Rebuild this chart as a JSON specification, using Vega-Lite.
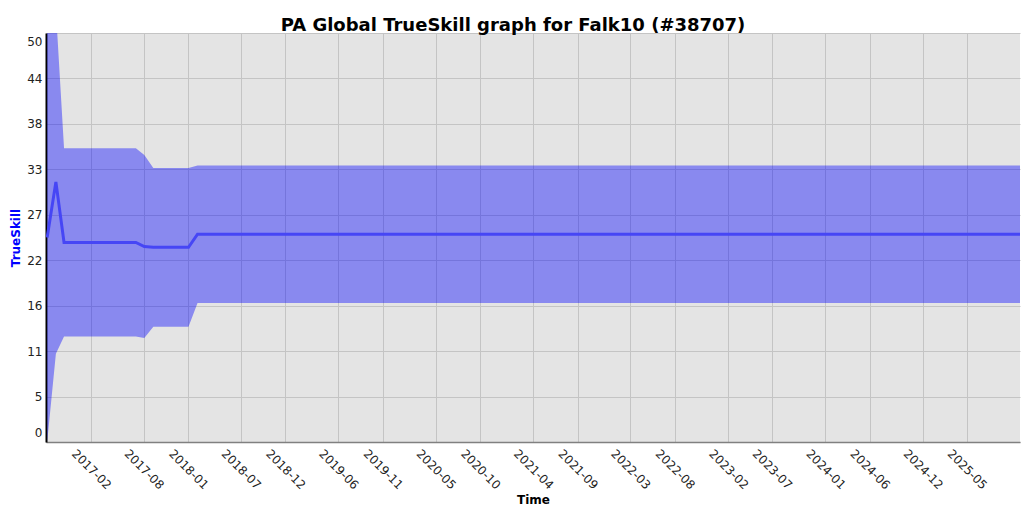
{
  "$schema": "https://vega.github.io/schema/vega-lite/v6.json",
  "width": 974,
  "height": 409,
  "autosize": {"type": "none"},
  "padding": {"left": 46, "top": 33, "right": 4, "bottom": 70},
  "background": "white",
  "title": {
    "text": "PA Global TrueSkill graph for Falk10 (#38707)",
    "fontSize": 18,
    "font": "DejaVu Sans",
    "fontWeight": "bold",
    "color": "#000000",
    "anchor": "middle",
    "dx": -20,
    "offset": -2
  },
  "data": {
    "values": [
      {"date": "2016-09-03", "mu": 25.0, "lo": 0.0, "hi": 50.0},
      {"date": "2016-10-03", "mu": 31.8, "lo": 10.8, "hi": 52.8},
      {"date": "2016-10-31", "mu": 24.4, "lo": 12.9, "hi": 35.9},
      {"date": "2017-07-05", "mu": 24.4, "lo": 12.9, "hi": 35.9},
      {"date": "2017-08-03", "mu": 23.9, "lo": 12.7, "hi": 35.1},
      {"date": "2017-09-03", "mu": 23.8, "lo": 14.1, "hi": 33.5},
      {"date": "2018-01-02", "mu": 23.8, "lo": 14.1, "hi": 33.5},
      {"date": "2018-02-02", "mu": 25.4, "lo": 17.0, "hi": 33.8},
      {"date": "2025-11-05", "mu": 25.4, "lo": 17.0, "hi": 33.8}
    ]
  },
  "encoding": {
    "x": {
      "field": "date",
      "type": "temporal",
      "title": "Time",
      "scale": {
        "type": "utc",
        "domain": [
          {"year": 2016, "month": 8, "date": 30, "utc": true},
          {"year": 2025, "month": 10, "date": 31, "utc": true}
        ]
      },
      "axis": {
        "values": [
          {"year": 2017, "month": 2, "date": 1, "utc": true},
          {"year": 2017, "month": 8, "date": 1, "utc": true},
          {"year": 2018, "month": 1, "date": 1, "utc": true},
          {"year": 2018, "month": 7, "date": 1, "utc": true},
          {"year": 2018, "month": 12, "date": 1, "utc": true},
          {"year": 2019, "month": 6, "date": 1, "utc": true},
          {"year": 2019, "month": 11, "date": 1, "utc": true},
          {"year": 2020, "month": 5, "date": 1, "utc": true},
          {"year": 2020, "month": 10, "date": 1, "utc": true},
          {"year": 2021, "month": 4, "date": 1, "utc": true},
          {"year": 2021, "month": 9, "date": 1, "utc": true},
          {"year": 2022, "month": 3, "date": 1, "utc": true},
          {"year": 2022, "month": 8, "date": 1, "utc": true},
          {"year": 2023, "month": 2, "date": 1, "utc": true},
          {"year": 2023, "month": 7, "date": 1, "utc": true},
          {"year": 2024, "month": 1, "date": 1, "utc": true},
          {"year": 2024, "month": 6, "date": 1, "utc": true},
          {"year": 2024, "month": 12, "date": 1, "utc": true},
          {"year": 2025, "month": 5, "date": 1, "utc": true}
        ],
        "format": "%Y-%m",
        "labelAngle": 45,
        "labelAlign": "center",
        "labelBaseline": "middle",
        "labelPadding": 27,
        "labelDx": -6,
        "ticks": false,
        "labelFlush": false,
        "labelOverlap": false,
        "domainColor": "#808080",
        "domainWidth": 1.5,
        "titlePadding": 4
      }
    }
  },
  "layer": [
    {
      "mark": {"type": "area", "color": "#0000ff", "opacity": 0.4, "clip": true, "interpolate": "linear"},
      "encoding": {
        "y": {
          "field": "hi",
          "type": "quantitative",
          "title": "TrueSkill",
          "scale": {"domain": [0, 50], "nice": false, "zero": false},
          "axis": {
            "values": [0, 5.5555556, 11.1111111, 16.6666667, 22.2222222, 27.7777778, 33.3333333, 38.8888889, 44.4444444, 50],
            "labelExpr": "floor(datum.value + 0.0001)",
            "ticks": false,
            "labelPadding": 4,
            "labelFlush": true,
            "labelFlushOffset": -3,
            "domainColor": "#000000",
            "domainWidth": 2,
            "titleColor": "#0000ff",
            "titlePadding": 4
          }
        },
        "y2": {"field": "lo"}
      }
    },
    {
      "mark": {"type": "line", "color": "#4646f5", "strokeWidth": 3, "clip": true},
      "encoding": {
        "y": {"field": "mu", "type": "quantitative"}
      }
    }
  ],
  "config": {
    "view": {"fill": "#e4e4e4", "stroke": null},
    "font": "DejaVu Sans",
    "axis": {
      "labelFont": "DejaVu Sans",
      "labelFontSize": 12,
      "labelColor": "#222222",
      "titleFont": "DejaVu Sans",
      "titleFontSize": 12,
      "titleFontWeight": "bold",
      "titleColor": "#000000",
      "gridColor": "#c4c4c4",
      "gridWidth": 1,
      "gridOpacity": 1
    }
  }
}
